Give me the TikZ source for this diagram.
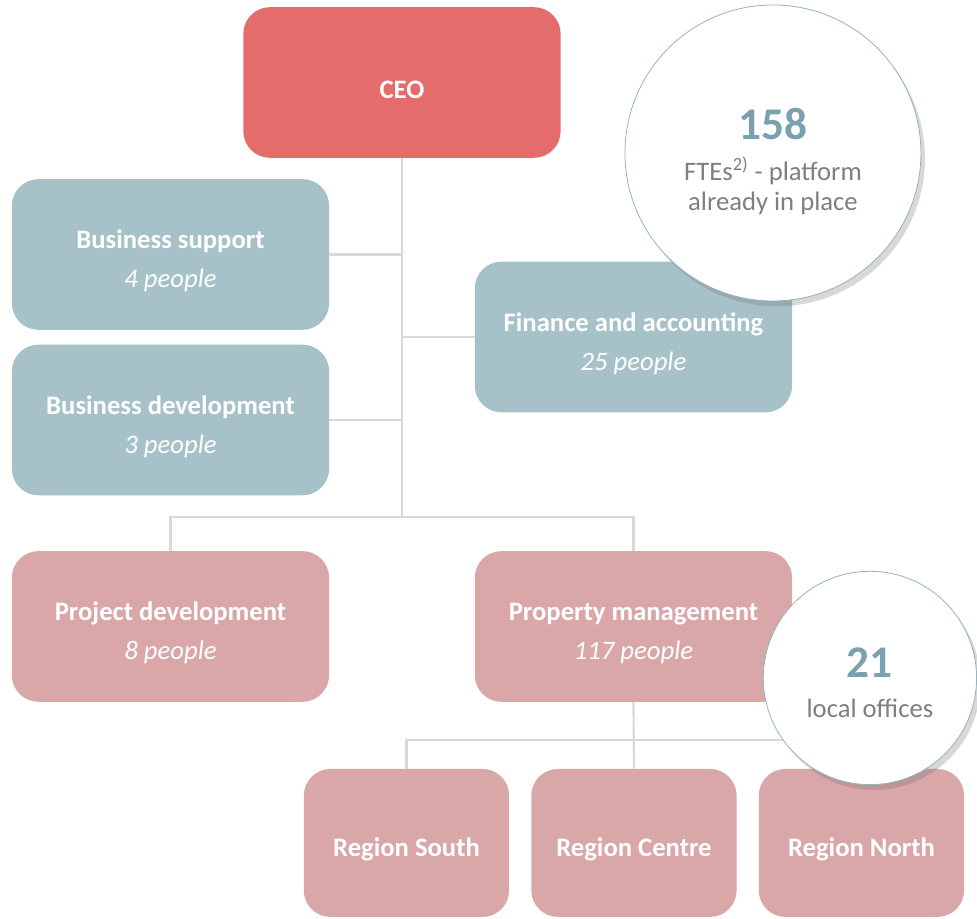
\documentclass[tikz,border=0pt]{standalone}
\usepackage{fontspec}
\setmainfont{Carlito}
\usetikzlibrary{shadows}
\definecolor{ceored}{HTML}{E46C6A}
\definecolor{staffblue}{HTML}{A7C1C8}
\definecolor{opspink}{HTML}{D9A7A7}
\definecolor{conngray}{HTML}{D9D9D9}
\definecolor{numblue}{HTML}{7BA1AE}
\definecolor{txtgray}{HTML}{7F7F7F}
\newcommand{\lift}{\rule{0pt}{24pt}}
\begin{document}
\begin{tikzpicture}[x=0.75pt,y=-0.75pt,
  unit/.style={rounded corners=20pt,minimum width=238pt,minimum height=113pt,
    text=white,align=center,font=\fontsize{20}{24}\selectfont,inner sep=2pt},
  staff/.style={unit,fill=staffblue},
  ops/.style={unit,fill=opspink},
  region/.style={ops,minimum width=154pt,minimum height=111pt},
  conn/.style={draw=conngray,line width=1.6pt},
  badge/.style={circle,fill=white,draw=numblue!80,line width=0.6pt,align=center,
    font=\fontsize{20}{24}\selectfont,text=txtgray,
    drop shadow={shadow xshift=3pt,shadow yshift=-4pt,opacity=0.25,fill=black!60}}]
  \fill[white] (0,0) rectangle (977,919);
  % boxes
  \node[unit,fill=ceored] (ceo) at (402,82.5) {\lift\bfseries CEO};
  \node[staff] (bsup) at (170.5,254.5) {\lift\textbf{Business support}\\[5pt]\textit{4 people}};
  \node[staff] (bdev) at (170.5,420) {\lift\textbf{Business development}\\[5pt]\textit{3 people}};
  \node[staff] (fin) at (633.5,337) {\lift\textbf{Finance and accounting}\\[5pt]\textit{25 people}};
  \node[ops] (proj) at (170.5,626.5) {\lift\textbf{Project development}\\[5pt]\textit{8 people}};
  \node[ops] (prop) at (633.5,626.5) {\lift\textbf{Property management}\\[5pt]\textit{117 people}};
  \node[region] (south) at (406.5,843) {\lift\textbf{Region South}};
  \node[region] (centre) at (634,843) {\lift\textbf{Region Centre}};
  \node[region] (north) at (861.5,843) {\lift\textbf{Region North}};
  % connectors
  \coordinate (hubtop) at (402,517);
  \coordinate (hubreg) at (634,740);
  \draw[conn] (ceo.south) -- (hubtop);
  \draw[conn] (bsup.east) -- (bsup.east -| hubtop);
  \draw[conn] (bdev.east) -- (bdev.east -| hubtop);
  \draw[conn] (fin.west) -- (fin.west -| hubtop);
  \draw[conn] (proj.north) |- (hubtop) -| (prop.north);
  \draw[conn] (prop.south) -- (centre.north);
  \draw[conn] (south.north) |- (hubreg) -| (north.north);
  % key figures
  \node[badge,minimum size=222pt] (fte) at (773,153)
    {\rule{0pt}{36pt}{\fontsize{34}{36}\selectfont\bfseries\color{numblue}158}\\[7pt]FTEs\textsuperscript{2)} - platform\\[-2pt]already in place};
  \node[badge,minimum size=160pt] (offices) at (870,678)
    {\rule{0pt}{30pt}{\fontsize{34}{36}\selectfont\bfseries\color{numblue}21}\\[6pt]local offices};
\end{tikzpicture}
\end{document}
